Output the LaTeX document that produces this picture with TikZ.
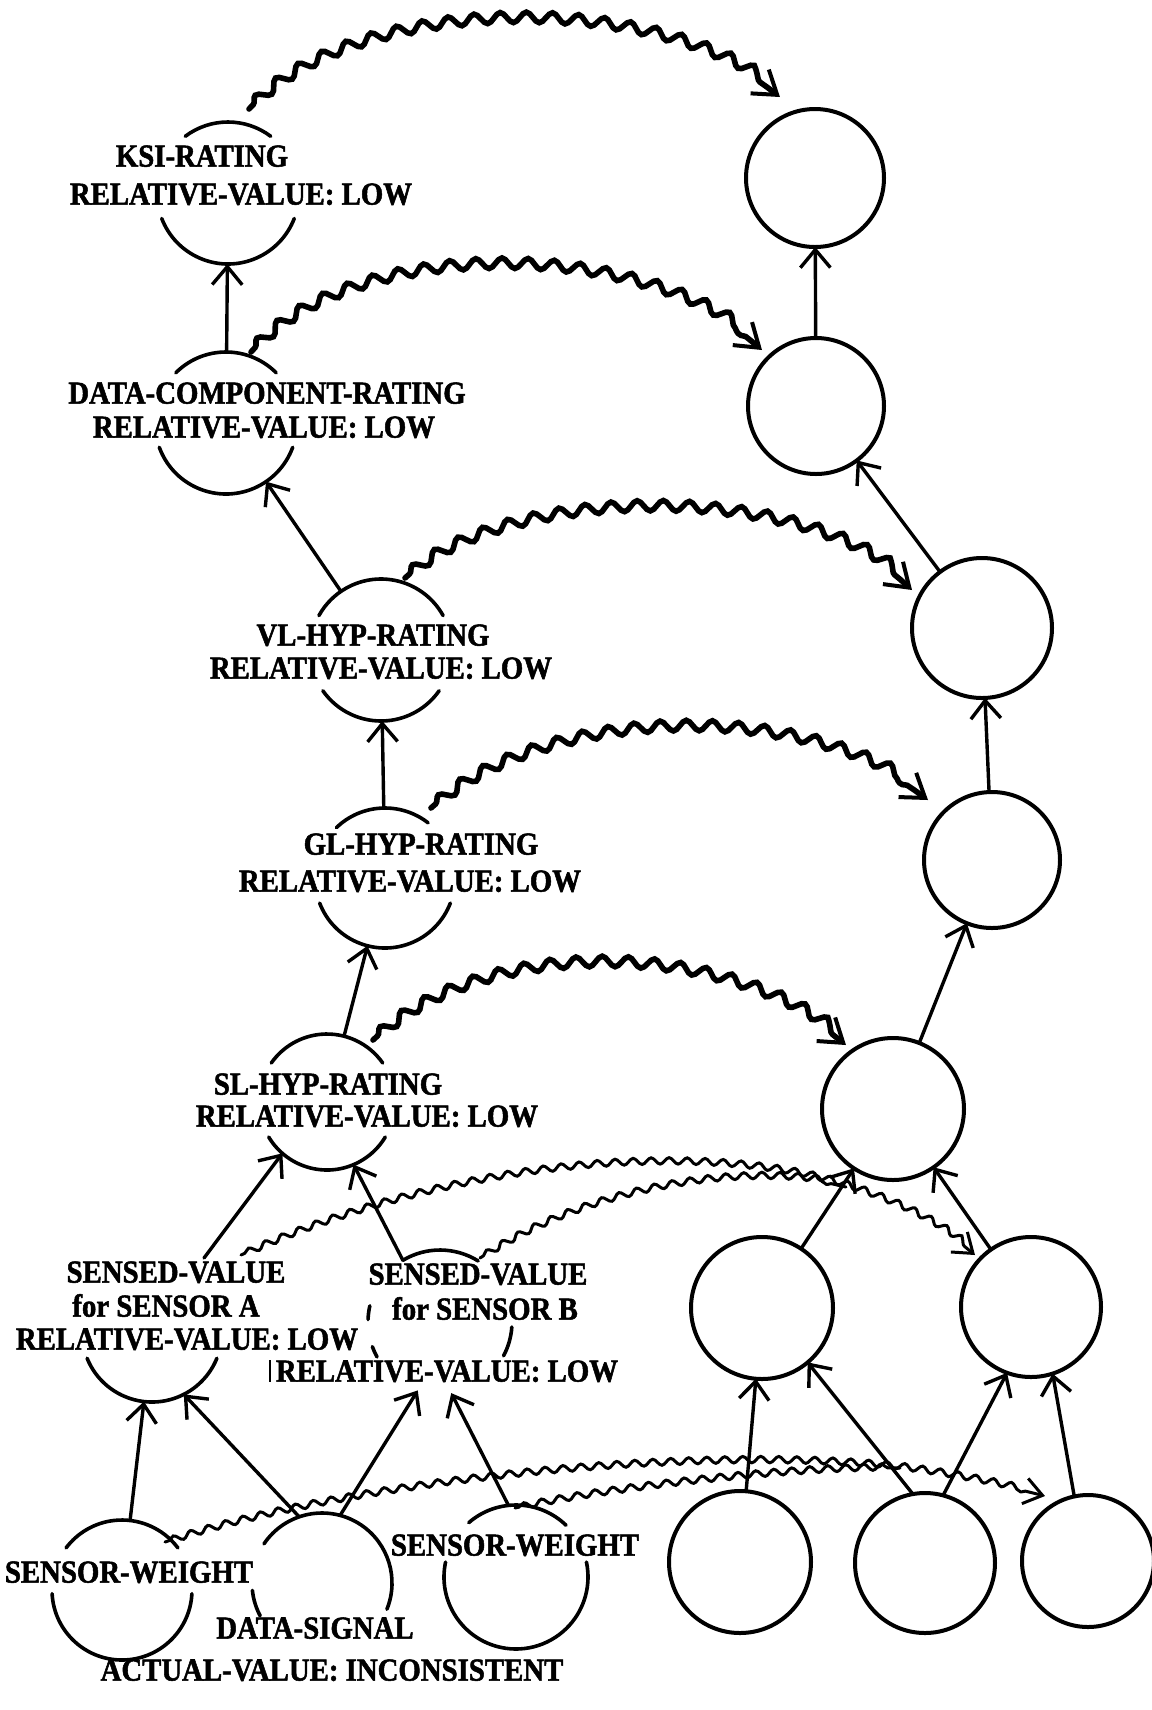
\documentclass[tikz,border=0pt]{standalone}
\usepackage{fontspec}
\newfontfamily\labfont{Liberation Serif}[FakeStretch=0.9,FakeBold=1.6]
\usetikzlibrary{arrows.meta,decorations.pathmorphing,calc}
\begin{document}
\begin{tikzpicture}[x=0.5pt,y=0.5pt,
  rc/.style={circle,draw,line width=2pt,minimum size=#1,inner sep=0pt,outer sep=0pt},
  lc/.style={circle,minimum size=#1,inner sep=0pt,outer sep=0pt},
  lab/.style={font=\labfont\bfseries\fontsize{16pt}{18pt}\selectfont,inner sep=0pt,text height=10.6pt,text depth=0pt},
  arcline/.style={line width=1.8pt,line cap=round},
  arr/.style={line width=1.7pt,line cap=round,-{Straight Barb[length=9pt,width=15pt]}},
  bigwave/.style={line width=2.8pt,line cap=round,decorate,
    decoration={snake,amplitude=2.6pt,segment length=13pt,pre length=3pt,post length=8pt},
    -{Straight Barb[length=11pt,width=15pt,line width=2pt]}},
  smallwave/.style={line width=1.5pt,line cap=round,decorate,
    decoration={snake,amplitude=1.6pt,segment length=9pt,pre length=2pt,post length=6pt}},
  wavetip/.style={-{Straight Barb[length=9pt,width=13pt,line width=1.5pt]}}
]
\useasboundingbox (0,0) rectangle (1152,-1710);

% ---------- left column (partial circles) ----------
\node[lc=71pt] (ksi) at (228,-193) {};
\node[lc=71pt] (dcr) at (226,-423) {};
\node[lc=71pt] (vl) at (381,-650) {};
\node[lc=70pt] (gl) at (385,-878) {};
\node[lc=68pt] (sl) at (327,-1102) {};
\node[lc=70pt] (sa) at (152,-1332) {};
\node[lc=72pt] (sb) at (440,-1322) {};
\node[lc=70pt] (swl) at (122,-1590) {};
\node[lc=70pt] (ds) at (322,-1583) {};
\node[lc=72pt] (swr) at (516,-1577) {};

\draw[arcline] (ksi.53) arc[start angle=53,end angle=127,radius=35.5pt];
\draw[arcline] (ksi.201) arc[start angle=201,end angle=339,radius=35.5pt];
\draw[arcline] (dcr.45) arc[start angle=45,end angle=135,radius=35.5pt];
\draw[arcline] (dcr.200) arc[start angle=200,end angle=340,radius=35.5pt];
\draw[arcline] (vl.29) arc[start angle=29,end angle=151,radius=35.5pt];
\draw[arcline] (vl.215) arc[start angle=215,end angle=325,radius=35.5pt];
\draw[arcline] (gl.52) arc[start angle=52,end angle=134,radius=35pt];
\draw[arcline] (gl.201) arc[start angle=201,end angle=339,radius=35pt];
\draw[arcline] (sl.35) arc[start angle=35,end angle=145,radius=34pt];
\draw[arcline] (sl.211) arc[start angle=211,end angle=329,radius=34pt];
\draw[arcline] (sa.202) arc[start angle=202,end angle=338,radius=35pt];
\draw[arcline] (sb.58) arc[start angle=58,end angle=121,radius=36pt];
\draw[arcline] (sb.167) arc[start angle=167,end angle=178,radius=36pt];
\draw[arcline] (sb.200) arc[start angle=200,end angle=209,radius=36pt];
\draw[arcline] (sb.332) arc[start angle=332,end angle=356,radius=36pt];
\draw[arcline] (swl.37) arc[start angle=37,end angle=143,radius=35pt];
\draw[arcline] (swl.183) arc[start angle=183,end angle=357,radius=35pt];
\draw[arcline] (ds.146) arc[start angle=146,end angle=-22,radius=35pt];
\draw[arcline] (ds.186) arc[start angle=186,end angle=208,radius=35pt];
\draw[arcline] (swr.46) arc[start angle=46,end angle=131,radius=36pt];
\draw[arcline] (swr.168) arc[start angle=168,end angle=372,radius=36pt];

% ---------- labels ----------
\node[lab] (ksit1) at (202,-156) {KSI-RATING};
\node[lab] (ksit2) at (241,-194) {RELATIVE-VALUE: LOW};
\node[lab] (dcrt1) at (267,-393) {DATA-COMPONENT-RATING};
\node[lab] (dcrt2) at (264,-427) {RELATIVE-VALUE: LOW};
\node[lab] (vlt1) at (373,-635) {VL-HYP-RATING};
\node[lab] (vlt2) at (381,-668) {RELATIVE-VALUE: LOW};
\node[lab] (glt1) at (421,-844) {GL-HYP-RATING};
\node[lab] (glt2) at (410,-881) {RELATIVE-VALUE: LOW};
\node[lab] (slt1) at (328,-1084) {SL-HYP-RATING};
\node[lab] (slt2) at (367,-1116) {RELATIVE-VALUE: LOW};
\node[lab] (sat1) at (176,-1272) {SENSED-VALUE};
\node[lab] (sat2) at (166,-1306) {for SENSOR A};
\node[lab] (sat3) at (187,-1339) {RELATIVE-VALUE: LOW};
\node[lab] (sbt1) at (478,-1274) {SENSED-VALUE};
\node[lab] (sbt2) at (485,-1309) {for SENSOR B};
\node[lab] (sbt3) at (447,-1371) {RELATIVE-VALUE: LOW};
\node[lab] (swlt) at (129,-1572) {SENSOR-WEIGHT};
\node[lab] (swrt) at (515,-1545) {SENSOR-WEIGHT};
\node[lab] (dst1) at (315,-1628) {DATA-SIGNAL};
\node[lab] (dst2) at (332,-1670) {ACTUAL-VALUE: INCONSISTENT};
\draw[line width=1pt] ($(sbt3.west)+(-6,11)$) -- ++(0,-22);

% ---------- right column (full circles) ----------
\node[rc=69pt] (r1) at (815,-178) {};
\node[rc=68pt] (r2) at (816,-406) {};
\node[rc=70pt] (r3) at (982,-628) {};
\node[rc=68pt] (r4) at (992,-860) {};
\node[rc=71pt] (r5) at (893,-1109) {};
\node[rc=71pt] (r6) at (762,-1308) {};
\node[rc=70pt] (r7) at (1031,-1307) {};
\node[rc=71pt] (b1) at (740,-1562) {};
\node[rc=70pt] (b2) at (925,-1563) {};
\node[rc=66pt] (b3) at (1088,-1561) {};

% ---------- straight arrows ----------
\draw[arr] (dcr) -- (ksi);
\draw[arr] (vl) -- (dcr);
\draw[arr] (gl) -- (vl);
\draw[arr] (sl) -- (gl);
\draw[arr] ($(sa)+(52,74)$) -- (sl.229);
\draw[arr] (sb.121) -- (sl.293);
\draw[arr] (swl) -- (sa);
\draw[arr] (ds.109) -- (sa.297);
\draw[arr] (ds.75) -- (sb.252);
\draw[arr] (swr.96) -- (sb.279);

\draw[arr] (r2) -- (r1);
\draw[arr] (r3) -- (r2);
\draw[arr] (r4) -- (r3);
\draw[arr] (r5) -- (r4);
\draw[arr] (r6) -- (r5);
\draw[arr] (r7) -- (r5);
\draw[arr] (b1) -- (r6);
\draw[arr] (b2.100) -- (r6.-50);
\draw[arr] (b2.75) -- (r7.250);
\draw[arr] (b3.102) -- (r7.288);

% ---------- wavy arrows ----------
\draw[bigwave] ($(ksi)+(21,84)$) .. controls (350,0) and (650,10) .. ($(r1)+(-35,81)$);
\draw[bigwave] ($(dcr)+(25,71)$) .. controls (350,-240) and (640,-240) .. ($(r2)+(-54,56)$);
\draw[bigwave] ($(vl)+(24,72)$) .. controls (500,-490) and (800,-480) .. ($(r3)+(-70,38)$);
\draw[bigwave] ($(gl)+(46,70)$) .. controls (540,-710) and (800,-700) .. ($(r4)+(-64,60)$);
\draw[bigwave] ($(sl)+(46,62)$) .. controls (480,-940) and (720,-940) .. ($(r5)+(-47,64)$);

\coordinate (m6) at (846,-1187);
\coordinate (m7) at (900,-1468);
\draw[smallwave,wavetip] ($(sa)+(89,77)$) .. controls (450,-1160) and (700,-1140) .. (m6)
   .. controls (900,-1205) and (940,-1225) .. ($(r7)+(-56,52)$);
\draw[smallwave] ($(sb)+(40,64)$) .. controls (600,-1180) and (760,-1165) .. (m6);
\draw[smallwave,wavetip] ($(swl)+(43,48)$) .. controls (350,-1480) and (700,-1445) .. (m7)
   .. controls (960,-1476) and (1010,-1487) .. ($(b3)+(-43,65)$);
\draw[smallwave] ($(swr)+(-1,69)$) .. controls (600,-1488) and (800,-1466) .. (m7);
\end{tikzpicture}
\end{document}
